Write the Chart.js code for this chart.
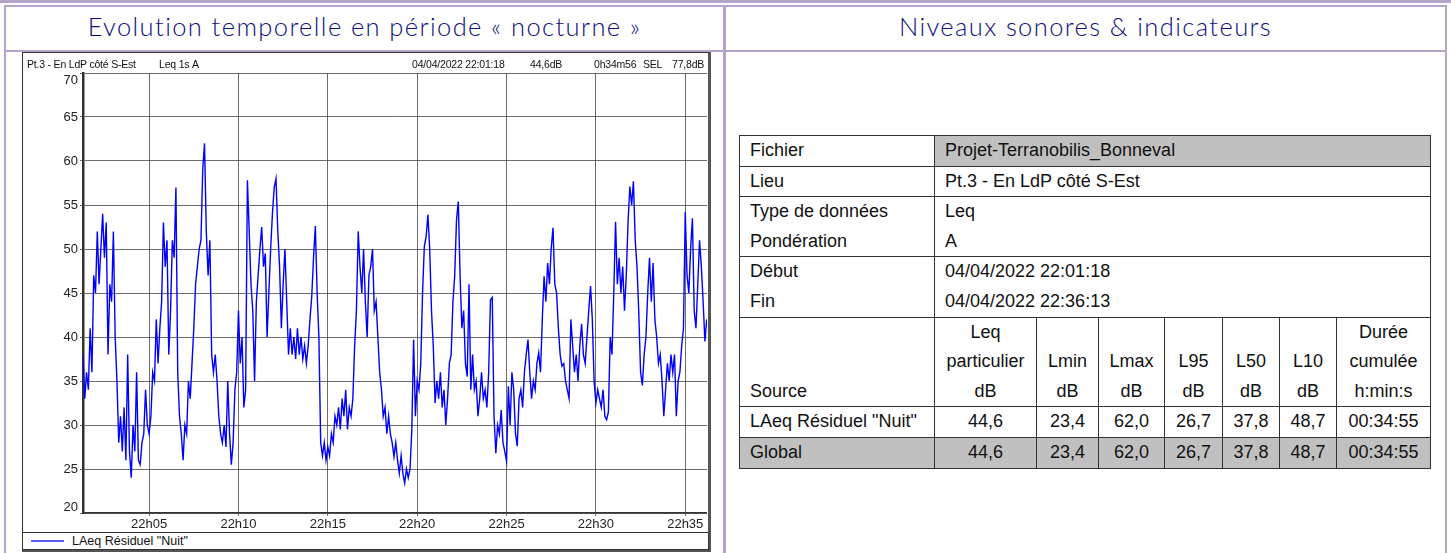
<!DOCTYPE html>
<html lang="fr">
<head>
<meta charset="utf-8">
<title>Evolution temporelle en période « nocturne »</title>
<script src="https://cdn.jsdelivr.net/npm/chart.js@4.4.1/dist/chart.umd.min.js"></script>
<style>
  html, body { margin: 0; padding: 0; background: #fff; }
  body { width: 1451px; height: 553px; position: relative; overflow: hidden; font-family: "Liberation Sans", Arial, sans-serif; }
  .lav { position: absolute; background: #b4a4ca; }
  .title { position: absolute; top: 4px; height: 44px; line-height: 44px; text-align: center; color: #0e0e7c;
           font-family: Lato, "DejaVu Sans", sans-serif; font-size: 25.5px; font-weight: 300; letter-spacing: 1.4px; }
  #frame { position: absolute; left: 22px; top: 52px; width: 685px; height: 496px; border: 1px solid #333;
           border-right: 3px solid #555; border-bottom: 3px solid #555; background: #fff; }
  #chartCanvas { position: absolute; left: 23px; top: 53px; }
  .strip { position: absolute; top: 58px; font-size: 10.5px; color: #111; white-space: nowrap; letter-spacing: -0.2px; }
  #legendBox { position: absolute; left: 22px; top: 532px; width: 685px; height: 16px; border: 1px solid #333; background: #fff; }
  #legendLine { position: absolute; left: 8px; top: 7px; width: 33px; height: 2px; background: #5a5aff; }
  #legendText { position: absolute; left: 49px; top: 0; line-height: 16px; font-size: 12.5px; color: #111; }
  #infoTable { position: absolute; left: 739px; top: 135px; width: 691px; border-collapse: collapse; table-layout: fixed;
               font-size: 18px; color: #111; }
  #infoTable td { border: 1px solid #333; padding: 0 0 0 10px; line-height: 29.6px; vertical-align: bottom; white-space: nowrap; }
  #infoTable td.num { text-align: center; padding: 0; }
  #infoTable .grey { background: #c0c0c0; }
</style>
</head>
<body>
<div class="lav" style="left:0;top:0;width:1451px;height:3px"></div>
<div class="lav" style="left:4px;top:5px;width:1443px;height:2px"></div>
<div class="lav" style="left:4px;top:50px;width:1443px;height:2px"></div>
<div class="lav" style="left:4px;top:5px;width:2px;height:548px"></div>
<div class="lav" style="left:723px;top:5px;width:3px;height:548px"></div>
<div class="lav" style="left:1445px;top:5px;width:2px;height:548px"></div>

<div class="title" style="left:6px;width:717px">Evolution temporelle en période « nocturne »</div>
<div class="title" style="left:726px;width:719px">Niveaux sonores &amp; indicateurs</div>

<div id="frame"></div>
<canvas id="chartCanvas" width="684" height="478"></canvas>
<div id="stripTexts"></div>
<div id="legendBox"><div id="legendLine"></div><div id="legendText"></div></div>

<table id="infoTable"></table>

<script>
// sound level (dB(A)), one reading every sampleStep seconds from the start time
const startTime = "22:01:18";
const endSecond = 2095;
const sampleStep = 6;
const levels = [
  38, 33, 36, 34, 41, 36, 47, 45, 52, 46, 50, 54, 49, 53, 38, 46, 44, 52, 40, 35,
  28, 31, 27, 32, 26, 38, 27, 24, 30, 27, 36, 26, 25.5, 28, 29, 34, 30, 29, 31, 36,
  35, 42, 37, 41, 44, 53, 48, 51, 38, 43, 51, 49, 57, 36, 31, 29, 26, 30, 29, 35,
  33, 37, 41, 46, 48, 50, 51, 59, 62, 52, 47, 51, 38, 36, 38, 35, 31, 29, 28, 30,
  27.5, 35, 29, 25.5, 28, 34, 36, 43, 37, 40, 32, 34, 57.8, 52, 46, 43, 35, 44, 47, 50,
  52.5, 48, 49.5, 40, 45, 50, 54, 57, 58, 52, 48, 41, 46, 50, 44, 38, 41, 38, 40, 37.5,
  41, 38, 40, 37.5, 39, 37, 39, 42, 44.6, 49, 52.6, 45, 40, 28, 26.5, 28, 26, 27.5, 26.5, 29,
  28, 31, 30, 32, 29.5, 33, 31, 34, 29.5, 32, 31, 33, 39, 43, 52, 48, 45, 50, 44, 40,
  47, 48, 50, 43, 44, 40, 36, 34, 31, 32, 29, 31, 29, 28, 26.4, 28, 26, 24.5, 26.5, 24.5,
  23.4, 25, 24, 25, 29.5, 39.7, 31, 35, 34, 37, 45, 50.3, 51.4, 53.9, 50, 43, 39, 32.5, 35, 33,
  36, 32, 34, 30, 33, 37, 38, 44, 47, 53.3, 55.4, 47, 41, 43, 37, 35.5, 46, 34, 38, 34,
  35, 31, 33, 36, 33, 34, 32, 36, 44.2, 44.5, 31, 26.8, 30, 29, 31.7, 28, 27, 25.9, 34.4, 30,
  36, 34, 29, 27.6, 33, 34, 32, 36, 38, 39.7, 36, 33, 35, 34, 37, 38.2, 36, 42, 46.9, 44,
  48.4, 46, 50.1, 52.4, 46, 45, 41, 38, 36.7, 37, 35, 34, 33, 42, 39, 36, 38, 35, 39, 41.5,
  38, 37, 40, 43, 45.8, 42, 35, 32.5, 34, 33, 32, 34, 31, 30.6, 31.5, 40, 38, 45, 53.1, 46,
  49, 45, 48, 43, 47, 53.1, 57.1, 55, 57.7, 51, 48, 42.7, 36, 34.5, 38, 40, 45, 49, 44, 48.4,
  42, 40, 37, 38, 35, 31, 34, 37, 35, 38, 36, 38, 31, 35, 36, 39, 41, 54.2, 47, 45,
  50, 53.5, 43, 41, 46, 51, 48, 44, 39.5, 42
];
const timeLabels = ["22h05", "22h10", "22h15", "22h20", "22h25", "22h30", "22h35"];
const yTicks = [20, 25, 30, 35, 40, 45, 50, 55, 60, 65, 70];
const seriesName = 'LAeq Résiduel "Nuit"';

// header strip of the chart window
const stripItems = [
  { text: "Pt.3 - En LdP côté S-Est", left: 27 },
  { text: "Leq 1s", left: 159 },
  { text: "A", left: 192 },
  { text: "04/04/2022 22:01:18", left: 412 },
  { text: "44,6dB", left: 530 },
  { text: "0h34m56", left: 594 },
  { text: "SEL", left: 643 },
  { text: "77,8dB", left: 672 }
];

// table contents
const infoRows = [
  { label: ["Fichier"], value: ["Projet-Terranobilis_Bonneval"], grey: true },
  { label: ["Lieu"], value: ["Pt.3 - En LdP côté S-Est"] },
  { label: ["Type de données", "Pondération"], value: ["Leq", "A"] },
  { label: ["Début", "Fin"], value: ["04/04/2022 22:01:18", "04/04/2022 22:36:13"] }
];
const statHeaders = [
  ["Leq", "particulier", "dB"], ["Lmin", "dB"], ["Lmax", "dB"], ["L95", "dB"],
  ["L50", "dB"], ["L10", "dB"], ["Durée", "cumulée", "h:min:s"]
];
const statRows = [
  { source: 'LAeq Résiduel "Nuit"', values: ["44,6", "23,4", "62,0", "26,7", "37,8", "48,7", "00:34:55"] },
  { source: "Global", values: ["44,6", "23,4", "62,0", "26,7", "37,8", "48,7", "00:34:55"], grey: true }
];
const colWidths = [195, 102, 62, 66, 58, 57, 57, 94];

function toSeconds(hhmmss) {
  const p = hhmmss.split(":").map(Number);
  return p[0] * 3600 + p[1] * 60 + (p[2] || 0);
}

function buildTable() {
  const table = document.getElementById("infoTable");
  let html = "<colgroup>" + colWidths.map(w => `<col style="width:${w}px">`).join("") + "</colgroup>";
  infoRows.forEach(row => {
    html += `<tr><td>${row.label.join("<br>")}</td>` +
      `<td colspan="7" class="${row.grey ? "grey" : ""}">${row.value.join("<br>")}</td></tr>`;
  });
  html += "<tr><td>Source</td>" + statHeaders.map(h => `<td class="num">${h.join("<br>")}</td>`).join("") + "</tr>";
  statRows.forEach(row => {
    const cls = row.grey ? " grey" : "";
    html += `<tr><td class="${cls}">${row.source}</td>` +
      row.values.map(v => `<td class="num${cls}">${v}</td>`).join("") + "</tr>";
  });
  table.innerHTML = html;
}

function buildStrip() {
  document.getElementById("stripTexts").innerHTML = stripItems
    .map(s => `<div class="strip" style="left:${s.left}px">${s.text}</div>`).join("");
  document.getElementById("legendText").textContent = seriesName;
}

const yLabelPlugin = {
  id: "yLabels",
  afterDraw(chart) {
    const { ctx, chartArea, scales } = chart;
    ctx.save();
    ctx.font = '13px "Liberation Sans", Arial, sans-serif';
    ctx.fillStyle = "#222";
    ctx.textAlign = "right";
    yTicks.forEach(v => {
      let y = scales.y.getPixelForValue(v);
      ctx.textBaseline = "middle";
      if (v === yTicks[yTicks.length - 1]) { ctx.textBaseline = "top"; y = chartArea.top + 1; }
      if (v === yTicks[0]) { ctx.textBaseline = "bottom"; y = chartArea.bottom + 1; }
      ctx.fillText(String(v), chartArea.left - 5, y);
    });
    ctx.restore();
  }
};

function renderChart() {
  const start = toSeconds(startTime);
  const tickSeconds = timeLabels.map(l => toSeconds(l.replace("h", ":") + ":00") - start);
  const points = levels.map((v, i) => ({ x: i * sampleStep, y: v }));

  new Chart(document.getElementById("chartCanvas"), {
    type: "line",
    data: {
      datasets: [{
        label: seriesName,
        data: points,
        borderColor: "#0000ff",
        borderWidth: 1.4,
        pointRadius: 0,
        tension: 0
      }]
    },
    options: {
      responsive: false,
      animation: false,
      layout: { padding: { top: 20, left: 0, right: 0, bottom: 0 } },
      plugins: { legend: { display: false }, tooltip: { enabled: false } },
      scales: {
        x: {
          type: "linear",
          min: 0,
          max: endSecond,
          afterBuildTicks: scale => { scale.ticks = tickSeconds.map(v => ({ value: v })); },
          afterFit: scale => { scale.height = 18; },
          ticks: {
            autoSkip: false, maxRotation: 0, padding: 1, color: "#222",
            font: { family: '"Liberation Sans", Arial, sans-serif', size: 13 },
            callback: (v, i) => timeLabels[i]
          },
          grid: { color: "rgba(60,60,60,0.75)", lineWidth: 1, tickLength: 3 },
          border: { display: true, color: "#333", width: 1.5 }
        },
        y: {
          min: 20,
          max: 70,
          afterBuildTicks: scale => { scale.ticks = yTicks.map(v => ({ value: v })); },
          afterFit: scale => { scale.width = 60; },
          ticks: { display: false },
          grid: { color: "rgba(60,60,60,0.75)", lineWidth: 1, tickLength: 3 },
          border: { display: true, color: "#333", width: 2.5 }
        }
      }
    },
    plugins: [yLabelPlugin]
  });
}

buildTable();
buildStrip();
renderChart();
</script>
</body>
</html>
